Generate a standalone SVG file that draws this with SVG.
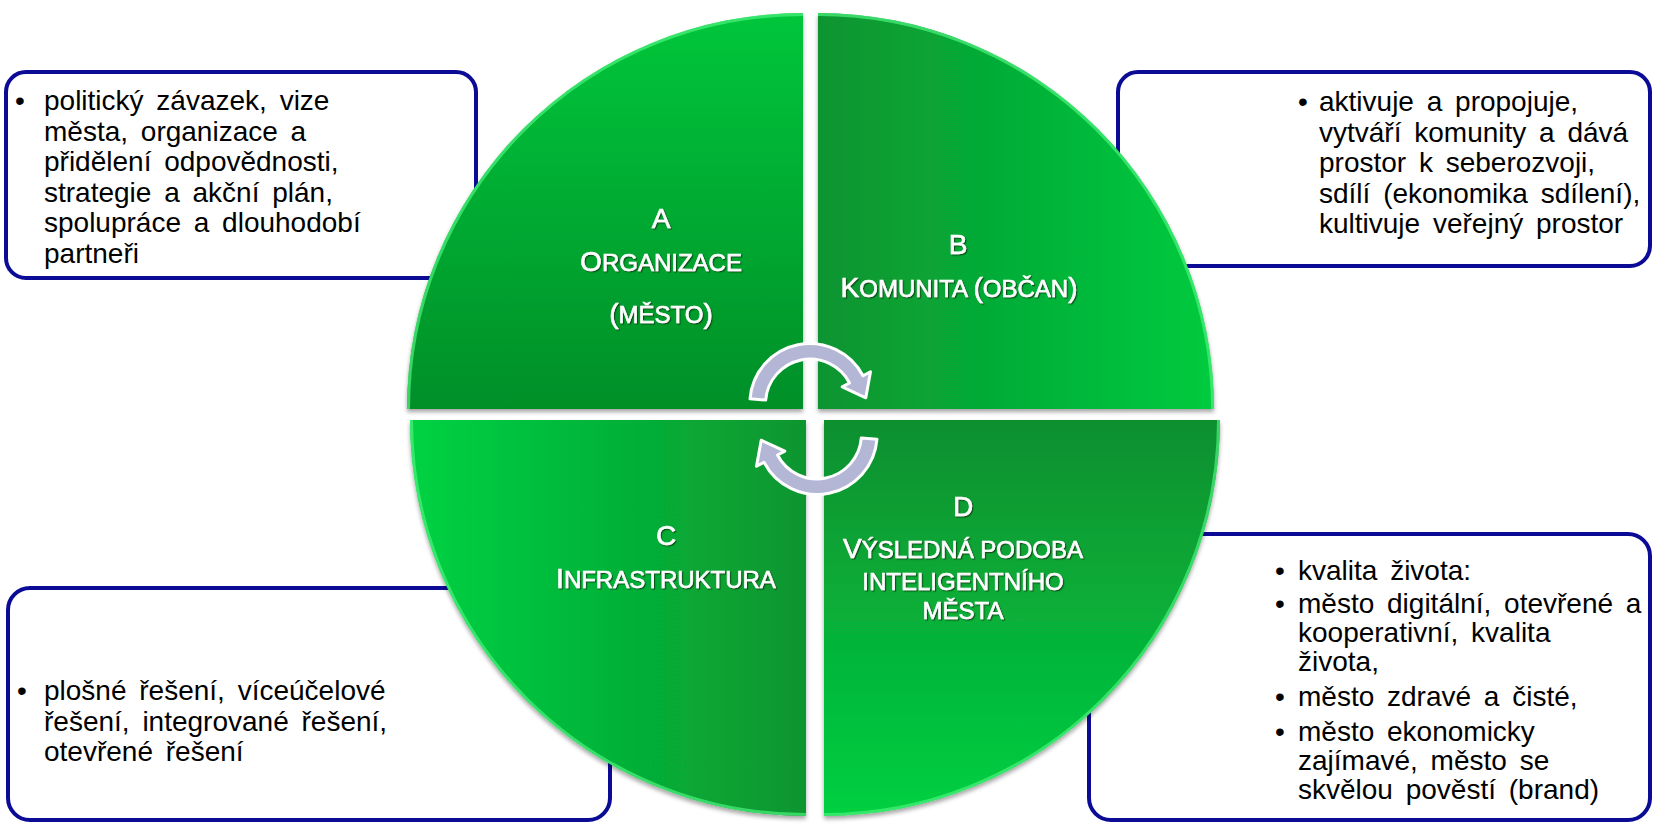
<svg xmlns="http://www.w3.org/2000/svg" width="1653" height="824" viewBox="0 0 1653 824">
<style>
.box{fill:#fff;stroke:#0b0b96;stroke-width:4}
.body{font-family:"Liberation Sans",Arial,sans-serif;font-size:28px;fill:#000;word-spacing:5px}
.bul{font-family:"Liberation Sans",Arial,sans-serif;font-size:28px;fill:#000;text-anchor:middle}
.lbl{font-family:"Liberation Sans",Arial,sans-serif;fill:#fff;stroke:#fff;stroke-width:0.6;text-anchor:middle;filter:url(#tsh)}
.big{font-size:28px}
.sm{font-size:24px}
.rim{fill:none;stroke:#4df27d;stroke-width:3;stroke-opacity:0.7}
.arr{fill:#b4b6d6;stroke:#fff;stroke-width:3;stroke-linejoin:round}
</style>
<defs>
<linearGradient id="gA" x1="0.5" y1="0" x2="0.5" y2="1"><stop offset="0" stop-color="#00c63b"/><stop offset="1" stop-color="#058f28"/></linearGradient>
<linearGradient id="gB" x1="0" y1="0.5" x2="1" y2="0.5"><stop offset="0" stop-color="#0a9430"/><stop offset="1" stop-color="#00cb3f"/></linearGradient>
<linearGradient id="gC" x1="0" y1="0.5" x2="1" y2="0.5"><stop offset="0" stop-color="#00d243"/><stop offset="1" stop-color="#0a952f"/></linearGradient>
<linearGradient id="gD" x1="0.5" y1="0" x2="0.5" y2="1"><stop offset="0" stop-color="#0e8f2f"/><stop offset="1" stop-color="#00d041"/></linearGradient>
<filter id="qsh" x="-5%" y="-5%" width="110%" height="115%"><feDropShadow dx="0" dy="3" stdDeviation="2" flood-color="#000" flood-opacity="0.35"/></filter>
<filter id="tsh" x="-10%" y="-30%" width="120%" height="160%"><feDropShadow dx="1.2" dy="1.2" stdDeviation="0.6" flood-color="#0a3a10" flood-opacity="0.8"/></filter>
<path id="arrow" d="M-60,-5.2 A60,60 0 0 1 53,-28.2 L60.5,-32.2 L55.8,-6.2 L32.2,-17.1 L39.5,-21 A44.5,44.5 0 0 0 -44.3,-3.9 Z"/>
</defs>
<rect width="1653" height="824" fill="#fff"/>

<g id="box-a">
<rect class="box" x="6" y="72" width="470" height="206" rx="20"/>
<text class="bul" x="20" y="110">•</text>
<text class="body" x="44" y="110">politický závazek, vize</text>
<text class="body" x="44" y="140.5">města, organizace a</text>
<text class="body" x="44" y="171">přidělení odpovědnosti,</text>
<text class="body" x="44" y="201.5">strategie a akční plán,</text>
<text class="body" x="44" y="232">spolupráce a dlouhodobí</text>
<text class="body" x="44" y="262.5">partneři</text>
</g>

<g id="box-b">
<rect class="box" x="1118" y="72" width="532" height="194" rx="20"/>
<text class="bul" x="1303" y="111">•</text>
<text class="body" x="1319" y="111">aktivuje a propojuje,</text>
<text class="body" x="1319" y="141.5">vytváří komunity a dává</text>
<text class="body" x="1319" y="172">prostor k seberozvoji,</text>
<text class="body" x="1319" y="202.5">sdílí (ekonomika sdílení),</text>
<text class="body" x="1319" y="233">kultivuje veřejný prostor</text>
</g>

<g id="box-c">
<rect class="box" x="8" y="588" width="602" height="232" rx="22"/>
<text class="bul" x="22" y="700">•</text>
<text class="body" x="44" y="700">plošné řešení, víceúčelové</text>
<text class="body" x="44" y="730.5">řešení, integrované řešení,</text>
<text class="body" x="44" y="761">otevřené řešení</text>
</g>

<g id="box-d">
<rect class="box" x="1089" y="534" width="561" height="286" rx="22"/>
<text class="bul" x="1280" y="580">•</text>
<text class="body" x="1298" y="580">kvalita života:</text>
<text class="bul" x="1280" y="613">•</text>
<text class="body" x="1298" y="613">město digitální, otevřené a</text>
<text class="body" x="1298" y="642">kooperativní, kvalita</text>
<text class="body" x="1298" y="671">života,</text>
<text class="bul" x="1280" y="706">•</text>
<text class="body" x="1298" y="706">město zdravé a čisté,</text>
<text class="bul" x="1280" y="741">•</text>
<text class="body" x="1298" y="741">město ekonomicky</text>
<text class="body" x="1298" y="770">zajímavé, město se</text>
<text class="body" x="1298" y="799">skvělou pověstí (brand)</text>
</g>

<g id="circle" filter="url(#qsh)">
<g id="quad-a">
<path d="M803,409 L407,409 A396,396 0 0 1 803,13 Z" fill="url(#gA)"/>
<path class="rim" d="M408.5,409 A394.5,394.5 0 0 1 803,14.5" stroke-opacity="0.35"/>
</g>
<g id="quad-b">
<path d="M818,409 L818,13 A396,396 0 0 1 1214,409 Z" fill="url(#gB)"/>
<path class="rim" d="M818,14.5 A394.5,394.5 0 0 1 1212.5,409"/>
</g>
<g id="quad-c">
<path d="M806,420 L806,816 A396,396 0 0 1 410,420 Z" fill="url(#gC)"/>
<path class="rim" d="M806,814.5 A394.5,394.5 0 0 1 411.5,420"/>
</g>
<g id="quad-d">
<path d="M824,420 L1220,420 A396,396 0 0 1 824,816 Z" fill="url(#gD)"/>
<path class="rim" d="M1218.5,420 A394.5,394.5 0 0 1 824,814.5"/>
</g>
</g>

<g id="connectors">
<use href="#arrow" class="arr" transform="translate(810,404)"/>
<use href="#arrow" class="arr" transform="translate(817,434) rotate(180)"/>
</g>

<g id="label-a">
<text class="lbl" x="661" y="228"><tspan class="big">A</tspan></text>
<text class="lbl" x="661" y="271"><tspan class="big">O</tspan><tspan class="sm">RGANIZACE</tspan></text>
<text class="lbl" x="661" y="323"><tspan class="big">(</tspan><tspan class="sm">MĚSTO</tspan><tspan class="big">)</tspan></text>
</g>
<g id="label-b">
<text class="lbl" x="958" y="254"><tspan class="big">B</tspan></text>
<text class="lbl" x="959" y="297"><tspan class="big">K</tspan><tspan class="sm">OMUNITA </tspan><tspan class="big">(</tspan><tspan class="sm">OBČAN</tspan><tspan class="big">)</tspan></text>
</g>
<g id="label-c">
<text class="lbl" x="666" y="545"><tspan class="big">C</tspan></text>
<text class="lbl" x="666" y="588"><tspan class="big">I</tspan><tspan class="sm">NFRASTRUKTURA</tspan></text>
</g>
<g id="label-d">
<text class="lbl" x="963" y="516"><tspan class="big">D</tspan></text>
<text class="lbl" x="963" y="558"><tspan class="big">V</tspan><tspan class="sm">ÝSLEDNÁ PODOBA</tspan></text>
<text class="lbl sm" x="963" y="590">INTELIGENTNÍHO</text>
<text class="lbl sm" x="963" y="619">MĚSTA</text>
</g>
</svg>
